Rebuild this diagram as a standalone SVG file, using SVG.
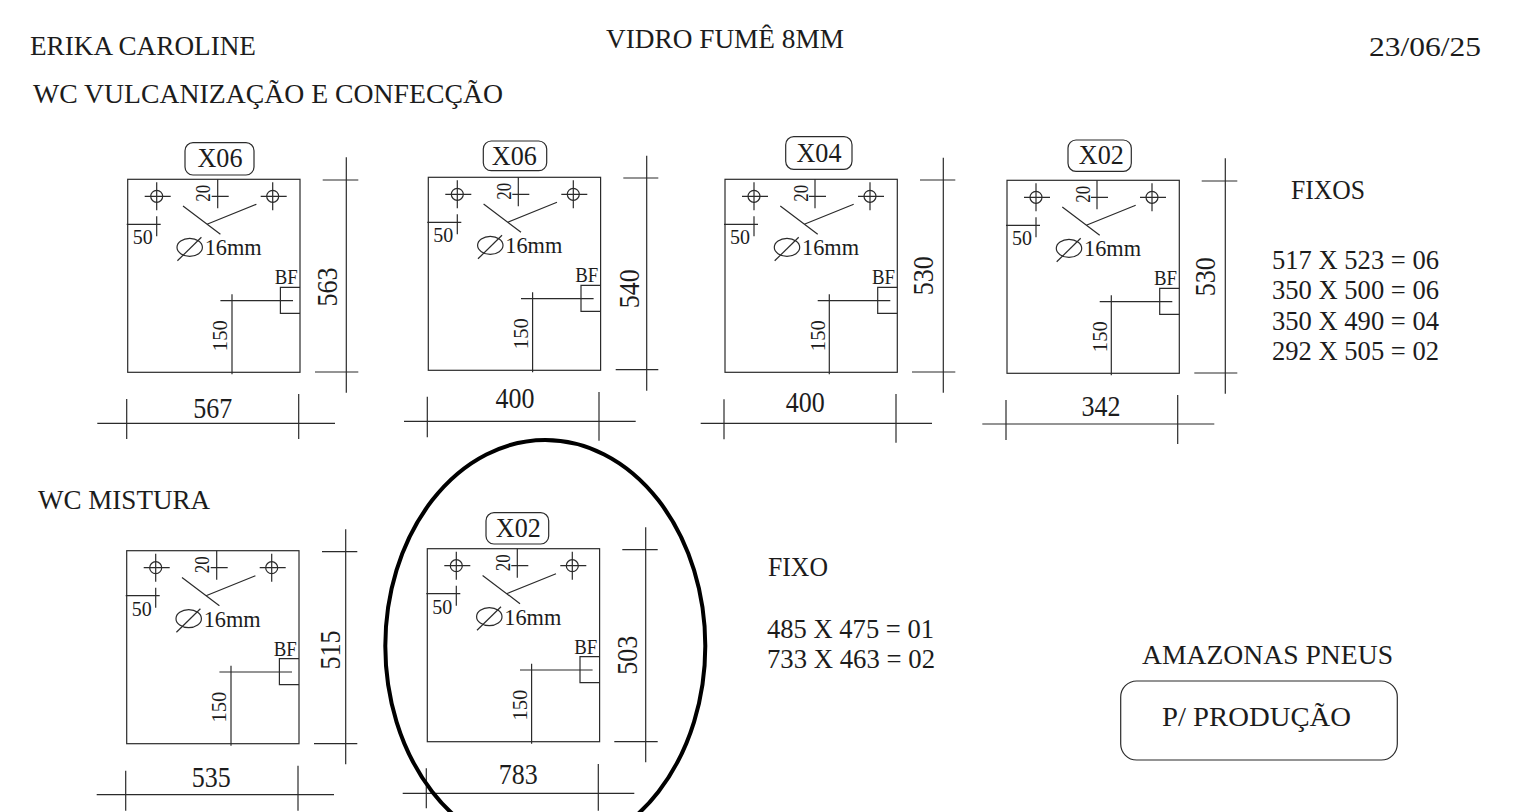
<svg xmlns="http://www.w3.org/2000/svg" width="1536" height="812" viewBox="0 0 1536 812">
<style>
text{font-family:"Liberation Serif","DejaVu Serif",serif;fill:#1c1c1c}
.h{font-size:27.5px}
.d{font-size:29px;text-anchor:middle}
.q{font-size:27.5px;text-anchor:middle}
.s{font-size:21px;text-anchor:middle}
.m{font-size:23px}
.b{font-size:20px}
.l{fill:none;stroke:#2b2b2b;stroke-width:1.2}
</style>
<defs>
<g id="plate" class="l">
<rect x="0" y="0" width="172.3" height="193"/>
<circle cx="29" cy="17" r="6"/>
<path d="M17 17H43M29 3V31"/>
<circle cx="145" cy="17" r="6"/>
<path d="M133 17H159M145 3V31"/>
<path d="M90 0V29M84 17H101"/>
<path d="M-1 45H33M29 37V57"/>
<path d="M55.3 26.7L92.7 55M79.3 45L128.7 25"/>
<ellipse cx="62" cy="68" rx="12.7" ry="9"/>
<path d="M49.7 81.5L73.7 58"/>
<path d="M172.3 108H152.7V134H172.3"/>
<path d="M92.7 121.3H165.3M104.3 115V195"/>
</g>
</defs>
<rect width="1536" height="812" fill="#fff"/>
<g id="headings">
<text class="h" x="30" y="55" textLength="226" lengthAdjust="spacingAndGlyphs">ERIKA CAROLINE</text>
<text class="h" x="33" y="103" textLength="470" lengthAdjust="spacingAndGlyphs">WC VULCANIZAÇÃO E CONFECÇÃO</text>
<text class="h" x="606" y="48" textLength="238" lengthAdjust="spacingAndGlyphs">VIDRO FUMÊ 8MM</text>
<text class="h" x="1369" y="56" textLength="112" lengthAdjust="spacingAndGlyphs">23/06/25</text>
<text class="h" x="38" y="509" textLength="172" lengthAdjust="spacingAndGlyphs">WC MISTURA</text>
</g>
<g id="list-fixos">
<text class="h" x="1291" y="199" textLength="74" lengthAdjust="spacingAndGlyphs">FIXOS</text>
<text class="h" x="1272" y="269" textLength="167" lengthAdjust="spacingAndGlyphs">517 X 523 = 06</text>
<text class="h" x="1272" y="299" textLength="167" lengthAdjust="spacingAndGlyphs">350 X 500 = 06</text>
<text class="h" x="1272" y="330" textLength="167" lengthAdjust="spacingAndGlyphs">350 X 490 = 04</text>
<text class="h" x="1272" y="360" textLength="167" lengthAdjust="spacingAndGlyphs">292 X 505 = 02</text>
</g>
<g id="list-fixo">
<text class="h" x="768" y="576" textLength="60" lengthAdjust="spacingAndGlyphs">FIXO</text>
<text class="h" x="767" y="638" textLength="167" lengthAdjust="spacingAndGlyphs">485 X 475 = 01</text>
<text class="h" x="767" y="668" textLength="168" lengthAdjust="spacingAndGlyphs">733 X 463 = 02</text>
</g>
<g id="panel-1">
<g transform="translate(127.7,179.3)"><use href="#plate"/>
<text class="s" transform="translate(82.7,14) rotate(-90)" textLength="17" lengthAdjust="spacingAndGlyphs">20</text><text class="s" x="15" y="65" textLength="20" lengthAdjust="spacingAndGlyphs">50</text><text class="m" x="77" y="76" textLength="57" lengthAdjust="spacingAndGlyphs">16mm</text><text class="b" x="147" y="105" textLength="23" lengthAdjust="spacingAndGlyphs">BF</text><text class="s" transform="translate(99.6,156.4) rotate(-90)" textLength="31" lengthAdjust="spacingAndGlyphs">150</text></g>
<rect class="l" x="185" y="142.7" width="69" height="32.3" rx="8"/><text class="q" x="220" y="167" textLength="45" lengthAdjust="spacingAndGlyphs">X06</text>
<path class="l" d="M346.3 157.3V392.7M322.7 180H358.3M315 372H358.3M97.3 423.3H335M126.7 399V439M298.7 394V439"/>
<text class="d" transform="translate(337.3,287) rotate(-90)" textLength="39" lengthAdjust="spacingAndGlyphs">563</text><text class="d" x="212.7" y="418" textLength="39" lengthAdjust="spacingAndGlyphs">567</text>
</g>
<g id="panel-2">
<g transform="translate(428.3,177.3)"><use href="#plate"/>
<text class="s" transform="translate(82.7,14) rotate(-90)" textLength="17" lengthAdjust="spacingAndGlyphs">20</text><text class="s" x="15" y="65" textLength="20" lengthAdjust="spacingAndGlyphs">50</text><text class="m" x="77" y="76" textLength="57" lengthAdjust="spacingAndGlyphs">16mm</text><text class="b" x="147" y="105" textLength="23" lengthAdjust="spacingAndGlyphs">BF</text><text class="s" transform="translate(99.6,156.4) rotate(-90)" textLength="31" lengthAdjust="spacingAndGlyphs">150</text></g>
<rect class="l" x="483.3" y="141" width="63.4" height="29.7" rx="8"/><text class="q" x="514.3" y="165" textLength="45" lengthAdjust="spacingAndGlyphs">X06</text>
<path class="l" d="M646.7 155.7V390.7M623.3 178H658.3M615.7 369.7H658.3M404 421.3H635.7M427.3 396.7V437.3M599 392V440.7"/>
<text class="d" transform="translate(639.3,288.7) rotate(-90)" textLength="39" lengthAdjust="spacingAndGlyphs">540</text><text class="d" x="515" y="408.3" textLength="39" lengthAdjust="spacingAndGlyphs">400</text>
</g>
<g id="panel-3">
<g transform="translate(725,179.3)"><use href="#plate"/>
<text class="s" transform="translate(82.7,14) rotate(-90)" textLength="17" lengthAdjust="spacingAndGlyphs">20</text><text class="s" x="15" y="65" textLength="20" lengthAdjust="spacingAndGlyphs">50</text><text class="m" x="77" y="76" textLength="57" lengthAdjust="spacingAndGlyphs">16mm</text><text class="b" x="147" y="105" textLength="23" lengthAdjust="spacingAndGlyphs">BF</text><text class="s" transform="translate(99.6,156.4) rotate(-90)" textLength="31" lengthAdjust="spacingAndGlyphs">150</text></g>
<rect class="l" x="785.7" y="136.7" width="66.3" height="32.6" rx="8"/><text class="q" x="819" y="161.7" textLength="45" lengthAdjust="spacingAndGlyphs">X04</text>
<path class="l" d="M943.3 157.7V392.7M920 180H955.3M912 372H955.3M700.7 423.3H932M724 399.3V439.3M896 394V442.7"/>
<text class="d" transform="translate(933.3,275.7) rotate(-90)" textLength="39" lengthAdjust="spacingAndGlyphs">530</text><text class="d" x="805.3" y="412.3" textLength="39" lengthAdjust="spacingAndGlyphs">400</text>
</g>
<g id="panel-4">
<g transform="translate(1007,180.3)"><use href="#plate"/>
<text class="s" transform="translate(82.7,14) rotate(-90)" textLength="17" lengthAdjust="spacingAndGlyphs">20</text><text class="s" x="15" y="65" textLength="20" lengthAdjust="spacingAndGlyphs">50</text><text class="m" x="77" y="76" textLength="57" lengthAdjust="spacingAndGlyphs">16mm</text><text class="b" x="147" y="105" textLength="23" lengthAdjust="spacingAndGlyphs">BF</text><text class="s" transform="translate(99.6,156.4) rotate(-90)" textLength="31" lengthAdjust="spacingAndGlyphs">150</text></g>
<rect class="l" x="1068" y="140" width="63.3" height="31.3" rx="8"/><text class="q" x="1101.3" y="164" textLength="45" lengthAdjust="spacingAndGlyphs">X02</text>
<path class="l" d="M1225.3 158.3V393.7M1201.7 181H1237.3M1194.3 373H1237.3M982.3 424H1214.3M1006 400V440M1177.7 395V444"/>
<text class="d" transform="translate(1215.3,276.7) rotate(-90)" textLength="39" lengthAdjust="spacingAndGlyphs">530</text><text class="d" x="1101" y="416" textLength="39" lengthAdjust="spacingAndGlyphs">342</text>
</g>
<g id="panel-5">
<g transform="translate(126.7,550.7)"><use href="#plate"/>
<text class="s" transform="translate(82.7,14) rotate(-90)" textLength="17" lengthAdjust="spacingAndGlyphs">20</text><text class="s" x="15" y="65" textLength="20" lengthAdjust="spacingAndGlyphs">50</text><text class="m" x="77" y="76" textLength="57" lengthAdjust="spacingAndGlyphs">16mm</text><text class="b" x="147" y="105" textLength="23" lengthAdjust="spacingAndGlyphs">BF</text><text class="s" transform="translate(99.6,156.4) rotate(-90)" textLength="31" lengthAdjust="spacingAndGlyphs">150</text></g>
<path class="l" d="M345.7 529.3V764.3M322 551.7H357.3M314 743.7H357.3M96.7 794.7H334M125.7 770.7V810.7M298 765.7V810.7"/>
<text class="d" transform="translate(340,650) rotate(-90)" textLength="39" lengthAdjust="spacingAndGlyphs">515</text><text class="d" x="211.3" y="787.3" textLength="39" lengthAdjust="spacingAndGlyphs">535</text>
</g>
<g id="panel-6">
<g transform="translate(427.3,548.7)"><use href="#plate"/>
<text class="s" transform="translate(82.7,14) rotate(-90)" textLength="17" lengthAdjust="spacingAndGlyphs">20</text><text class="s" x="15" y="65" textLength="20" lengthAdjust="spacingAndGlyphs">50</text><text class="m" x="77" y="76" textLength="57" lengthAdjust="spacingAndGlyphs">16mm</text><text class="b" x="147" y="105" textLength="23" lengthAdjust="spacingAndGlyphs">BF</text><text class="s" transform="translate(99.6,156.4) rotate(-90)" textLength="31" lengthAdjust="spacingAndGlyphs">150</text></g>
<rect class="l" x="486" y="512.7" width="62.7" height="31.3" rx="8"/><text class="q" x="518.3" y="536.7" textLength="45" lengthAdjust="spacingAndGlyphs">X02</text>
<path class="l" d="M645.7 527.3V762.3M622.3 549.7H657.7M614.3 741.7H657.7M402.7 793.3H634.3M426.3 768.3V808.3M598.3 764V810.7"/>
<text class="d" transform="translate(636.7,655.3) rotate(-90)" textLength="39" lengthAdjust="spacingAndGlyphs">503</text><text class="d" x="518.3" y="784.3" textLength="39" lengthAdjust="spacingAndGlyphs">783</text>
</g>
<ellipse id="highlight" cx="545.3" cy="646" rx="160" ry="206" fill="none" stroke="#000" stroke-width="4"/>
<g id="stamp">
<text class="h" x="1142" y="664" textLength="251" lengthAdjust="spacingAndGlyphs">AMAZONAS PNEUS</text>
<rect class="l" x="1120.7" y="681" width="276.6" height="79" rx="16"/>
<text class="h" x="1162" y="726" textLength="189" lengthAdjust="spacingAndGlyphs">P/ PRODUÇÃO</text>
</g>
</svg>
